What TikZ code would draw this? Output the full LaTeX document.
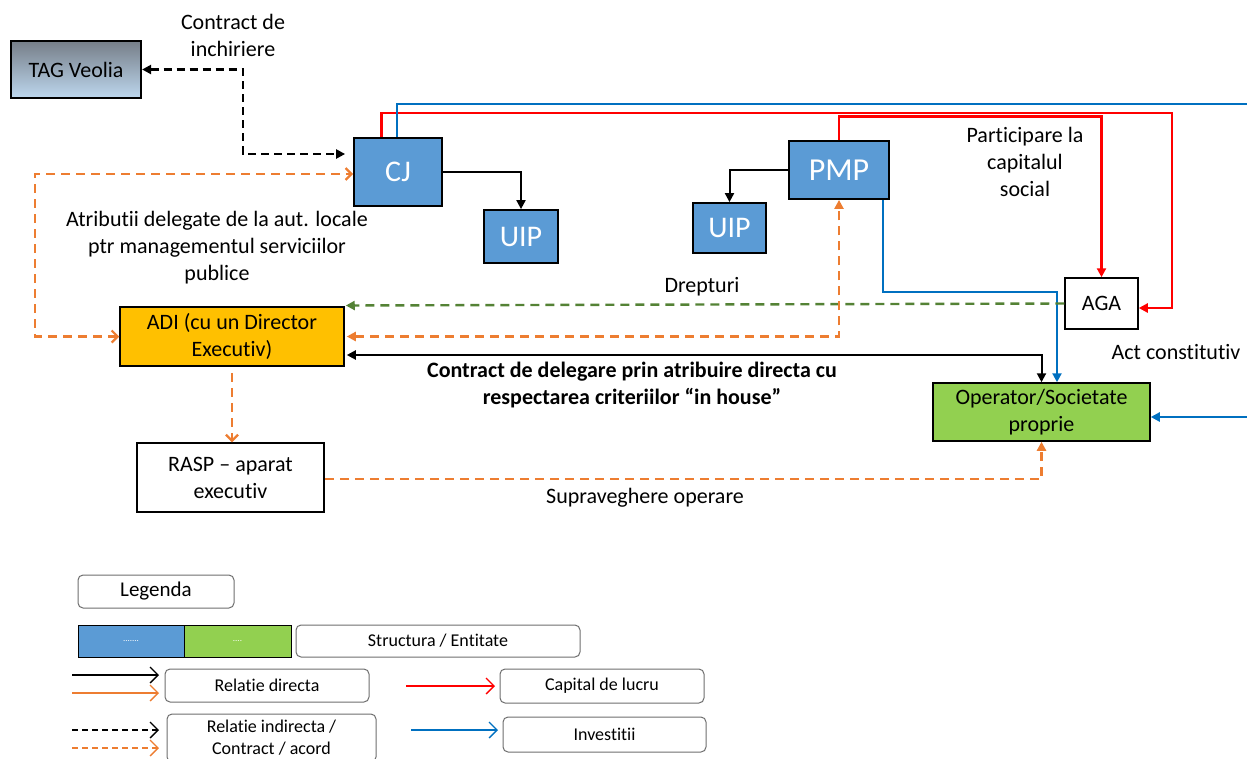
\documentclass[tikz,border=0pt]{standalone}
\usepackage{fontspec}
\setmainfont{Carlito}[Ligatures={NoCommon}]
\usetikzlibrary{arrows.meta,calc}

\definecolor{boxblue}{RGB}{91,155,213}
\definecolor{boxgreen}{RGB}{146,208,80}
\definecolor{adiyellow}{RGB}{255,192,0}
\definecolor{invblue}{RGB}{0,112,192}
\definecolor{capred}{RGB}{255,0,0}
\definecolor{relorange}{RGB}{237,125,49}
\definecolor{rightsgreen}{RGB}{84,130,53}
\definecolor{legendgray}{RGB}{110,110,110}
\definecolor{tagtop}{RGB}{118,126,136}
\definecolor{tagmid}{RGB}{170,199,228}
\definecolor{tagbot}{RGB}{189,215,238}

\newcommand{\lblfont}{\fontsize{22}{27}\selectfont}
\newcommand{\bigfont}{\fontsize{30}{34}\selectfont}
\newcommand{\legfont}{\fontsize{18}{22}\selectfont}

\tikzset{
  solidtip/.tip={Triangle[length=9pt,width=9pt]},
  opentip/.tip={Straight Barb[length=6pt,width=12pt,line width=2.2pt]},
  legtip/.tip={Straight Barb[length=8pt,width=16pt,line width=1.3pt]},
  entity/.style={draw=black, line width=1.8pt, fill=boxblue, text=white,
    inner sep=0pt, font=\bigfont},
  plainbox/.style={draw=black, line width=1.5pt, fill=white, align=center,
    inner sep=0pt, font=\lblfont},
  lbl/.style={align=center, font=\lblfont, inner sep=0pt},
  legbox/.style={draw=legendgray, line width=1pt, rounded corners=5pt,
    fill=white, align=center, inner sep=0pt, font=\legfont},
  blackline/.style={draw=black, line width=2pt},
  blackdash/.style={draw=black, line width=2.4pt, dash pattern=on 8pt off 5pt},
  orangedash/.style={draw=relorange, line width=2.4pt, dash pattern=on 9pt off 6pt},
  greendash/.style={draw=rightsgreen, line width=2.4pt, dash pattern=on 9pt off 6pt},
  redline/.style={draw=capred, line width=2.8pt},
  blueline/.style={draw=invblue, line width=2.5pt},
}

\begin{document}
\begin{tikzpicture}[x=1pt,y=-1pt]
\useasboundingbox (0,0) rectangle (1247,758);
\clip (0,0) rectangle (1247,758);

% ---------- entities ----------
\node[draw=black, line width=2.2pt, top color=tagtop, middle color=tagmid,
  bottom color=tagbot, minimum width=130pt, minimum height=57pt,
  inner sep=0pt, font=\lblfont] (tag) at (76,69.5) {TAG Veolia};
\node[entity, minimum width=88pt, minimum height=68pt] (cj) at (398,172) {CJ};
\node[entity, minimum width=74pt, minimum height=53pt] (uipa) at (521,236.5) {UIP};
\node[entity, minimum width=100pt, minimum height=58pt, font=\fontsize{32}{36}\selectfont] (pmp) at (839,170) {PMP};
\node[entity, minimum width=73pt, minimum height=50pt] (uipb) at (729.5,228) {UIP};
\node[plainbox, minimum width=73pt, minimum height=51pt] (aga) at (1101.5,303.5) {AGA};
\node[plainbox, fill=adiyellow, minimum width=224pt, minimum height=59pt] (adi) at (232,336.5) {ADI (cu un Director\\Executiv)};
\node[plainbox, minimum width=187pt, minimum height=69pt] (rasp) at (230.5,477.5) {RASP -- aparat\\executiv};
\node[plainbox, fill=boxgreen, minimum width=217pt, minimum height=58pt] (op) at (1041.5,412) {Operator/Societate\\proprie};

% ---------- connectors ----------
% lease contract
\draw[blackdash, {solidtip}-{solidtip}] (tag.east) -- (243,69.5) |- ($(cj.west)+(-8,-18)$);
% CJ and PMP to their UIPs
\draw[blackline, -{solidtip}] (cj.east) -| (uipa.north);
\draw[blackline, -{solidtip}] (pmp.west) -| (uipb.north);
% share capital
\draw[redline, -{solidtip}] ($(cj.north west)+(28,0)$) |- (1172,113) |- ($(aga.east)+(0,4.5)$);
\draw[redline, -{solidtip}] (pmp.north) -- ++(0,-24) -| (aga.north);
% investments
\draw[blueline, -{solidtip}] ($(cj.north west)+(44,0)$) |- (1262,104) |- ($(op.east)+(0,5)$);
\draw[blueline, -{solidtip}] ($(pmp.south east)+(-7,0)$) -- ++(0,92) -| ($(op.north)+(15.5,0)$);
% delegation contract
\draw[blackline, {solidtip}-{solidtip}] ($(adi.east)+(2,18.5)$) -| (op.north);
% rights
\draw[greendash, -{solidtip}] (aga.west) -- ($(aga.west -| adi.east)+(1,2)$);
% delegated attributions
\draw[orangedash, {solidtip}-{solidtip}] ($(adi.east)+(2,0)$) -| (pmp.south);
\draw[orangedash, {opentip}-{opentip}] (adi.west) -- ++(-84,0) |- ($(cj.west)+(0,2)$);
\draw[orangedash, -{opentip}] ($(adi.south)+(0,6)$) -- (rasp.north -| adi.south);
\draw[orangedash, -{solidtip}] ($(rasp.east)+(0,1.5)$) -| (op.south);

% ---------- labels ----------
\node[lbl] (lcontract) at (233,35) {Contract de\\inchiriere};
\node[lbl] (latrib) at (217,248) {Atributii delegate de la aut. locale\\ptr managementul serviciilor\\publice};
\node[lbl] (ldrept) at (702,287) {Drepturi};
\node[lbl] (lpart) at (1025,162) {Participare la\\capitalul\\social};
\node[lbl] (lact) at (1176,352) {Act constitutiv};
\node[lbl, font=\lblfont\bfseries] (ldeleg) at (632,385) {Contract de delegare prin atribuire directa cu\\respectarea criteriilor \textquotedblleft in house\textquotedblright};
\node[lbl] (lsupr) at (645,498) {Supraveghere operare};

% ---------- legend ----------
\node[legbox, minimum width=156pt, minimum height=33pt, font=\fontsize{21}{25}\selectfont] (leg) at (156,591.5) {Legenda};
\node[draw=black, line width=1pt, fill=boxblue, text=white, minimum width=106pt, minimum height=32pt, inner sep=0pt, font=\fontsize{9}{10}\selectfont] (legblue) at (131,641) {.......};
\node[draw=black, line width=1pt, fill=boxgreen, text=white, minimum width=107pt, minimum height=32pt, inner sep=0pt, font=\fontsize{9}{10}\selectfont] (leggreen) at (237.5,641) {....};
\node[legbox, minimum width=284pt, minimum height=32pt] (legstruct) at (438,641) {Structura / Entitate};
\node[legbox, minimum width=204pt, minimum height=33pt] (legdir) at (267,685.5) {Relatie directa};
\node[legbox, minimum width=204pt, minimum height=34pt] (legcap) at (602,686) {Capital de lucru};
\node[legbox, minimum width=209pt, minimum height=48pt] (legind) at (271.5,738) {Relatie indirecta /\\Contract / acord};
\node[legbox, minimum width=203pt, minimum height=35pt] (leginv) at (604.5,734.5) {Investitii};

\coordinate (ka) at (72,675);  \coordinate (kb) at (159,675);
\coordinate (oa) at (72,693);  \coordinate (ob) at (159,693);
\coordinate (ra) at (406,686); \coordinate (rb) at (495,686);
\coordinate (kda) at (72,730); \coordinate (kdb) at (159,730);
\coordinate (oda) at (72,748); \coordinate (odb) at (159,748);
\coordinate (ba) at (411,730); \coordinate (bb) at (498,730);

\draw[draw=black, line width=1.5pt, -{legtip}] (ka) -- (kb);
\draw[draw=relorange, line width=1.5pt, -{legtip}] (oa) -- (ob);
\draw[draw=capred, line width=1.5pt, -{legtip}] (ra) -- (rb);
\draw[draw=black, line width=1.5pt, dash pattern=on 6pt off 4pt, -{legtip}] (kda) -- (kdb);
\draw[draw=relorange, line width=1.5pt, dash pattern=on 6pt off 4pt, -{legtip}] (oda) -- (odb);
\draw[draw=invblue, line width=1.5pt, -{legtip}] (ba) -- (bb);
\end{tikzpicture}
\end{document}
